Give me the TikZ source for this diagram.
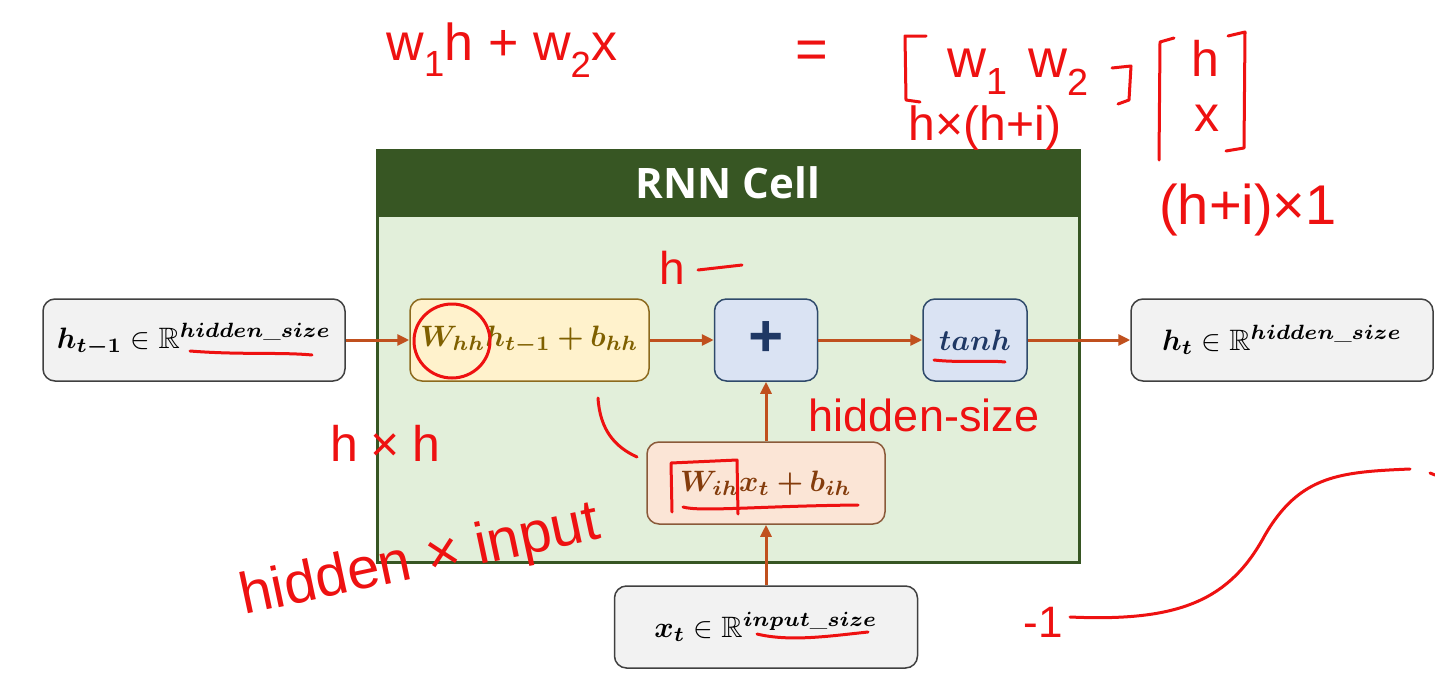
\documentclass[tikz,border=0pt]{standalone}
\usepackage{amsmath,amssymb,bm}
\usepackage{fontspec}
\newfontfamily\titlefont{Open Sans}
\newfontfamily\hand{Liberation Sans}
\usetikzlibrary{arrows.meta}
\definecolor{hdr}{HTML}{375623}
\definecolor{cellbg}{HTML}{E2EFDA}
\definecolor{graybg}{HTML}{F2F2F2}
\definecolor{grayln}{HTML}{404040}
\definecolor{yelbg}{HTML}{FFF2CC}
\definecolor{yelln}{HTML}{8C6A1E}
\definecolor{yeltx}{HTML}{7F6000}
\definecolor{bluebg}{HTML}{DAE3F3}
\definecolor{blueln}{HTML}{2F4A6B}
\definecolor{bluetx}{HTML}{1F3864}
\definecolor{pinkbg}{HTML}{FBE5D6}
\definecolor{pinkln}{HTML}{8A5A3A}
\definecolor{pinktx}{HTML}{843C0C}
\definecolor{arrc}{HTML}{C0501E}
\definecolor{ink}{HTML}{EE1111}
\tikzset{
  box/.style={draw, rounded corners=12pt, line width=1.5pt, minimum height=82pt, inner sep=0pt},
  graybox/.style={box, fill=graybg, draw=grayln, minimum width=302pt},
  yelbox/.style={box, fill=yelbg, draw=yelln, text=yeltx, minimum width=239pt},
  bluebox/.style={box, fill=bluebg, draw=blueln, text=bluetx, minimum width=104pt},
  pinkbox/.style={box, fill=pinkbg, draw=pinkln, text=pinktx, minimum width=238pt},
  arr/.style={draw=arrc, line width=3pt, -{Triangle[length=12pt,width=11pt]}},
  pen/.style={draw=ink, line width=3pt, line cap=round, line join=round},
  handtxt/.style={text=ink, inner sep=0pt, font=\hand},
}
\newcommand{\hsz}[1]{\fontsize{#1}{#1}\selectfont}
\newcommand{\mth}[1]{\scalebox{2.95}{$\bm{#1}$}}
\begin{document}
\begin{tikzpicture}[x=1pt,y=-1pt]
\useasboundingbox (0,0) rectangle (1435,672);
\fill[white] (0,0) rectangle (1435,672);
% RNN cell
\draw[fill=cellbg, draw=hdr, line width=3pt] (377,150) rectangle (1079,562);
\fill[hdr] (377,150) rectangle (1079,217);
\node[text=white, font=\titlefont\bfseries\hsz{42}] (title) at (728,183) {RNN Cell};
% boxes
\node[graybox] (hprev) at (194,340) {\scalebox{2.95}{$\bm{h_{t-1}}\in\mathbb{R}^{\bm{hidden\_size}}$}};
\node[yelbox] (whh) at (529.5,340) {\mth{W_{hh}h_{t-1}+b_{hh}}};
\node[bluebox, minimum width=103pt] (plus) at (766,340) {\titlefont\bfseries\hsz{62}+};
\node[bluebox] (tanh) at (975,340) {\mth{tanh}};
\node[graybox] (ht) at (1282,340) {\scalebox{2.95}{$\bm{h_{t}}\in\mathbb{R}^{\bm{hidden\_size}}$}};
\node[pinkbox] (wih) at (766,483) {\mth{W_{ih}x_{t}+b_{ih}}};
\node[graybox, minimum width=303pt] (xt) at (766,627) {\scalebox{2.95}{$\bm{x_{t}}\in\mathbb{R}^{\bm{input\_size}}$}};
% connectors
\draw[arr] (hprev.east) -- (whh.west);
\draw[arr] (whh.east) -- (plus.west);
\draw[arr] (plus.east) -- (tanh.west);
\draw[arr] (tanh.east) -- (ht.west);
\draw[arr] (wih.north) -- (plus.south);
\draw[arr] (xt.north) -- (wih.south);
% handwritten annotations
\node[handtxt, font=\hand\hsz{52}] (a1) at (502,50) {w\textsubscript{1}h + w\textsubscript{2}x};
\node[handtxt, font=\hand\hsz{56}] (a2) at (812,55) {=};
\node[handtxt, font=\hand\hsz{54}] (a3) at (1018,72) {w\textsubscript{1}\hspace{20pt}w\textsubscript{2}};
\draw[pen] (926,36) -- (905,36) -- (906,100) -- (920,102);
\draw[pen] (1112,68) -- (1131,66) -- (1129,100) -- (1118,104);
\node[handtxt, font=\hand\hsz{48}] (a4) at (985,128) {h×(h+i)};
\draw[pen] (1174,38) -- (1160,42) -- (1159,160);
\draw[pen] (1228,36) -- (1245,32) -- (1244,148) -- (1226,151);
\node[handtxt, font=\hand\hsz{50}] (a5) at (1205,58) {h};
\node[handtxt, font=\hand\hsz{50}] (a6) at (1207,118) {x};
\node[handtxt, font=\hand\hsz{56}] (a7) at (1248,210) {(h+i)×1};
\node[handtxt, font=\hand\hsz{46}] (a8) at (672,268) {h};
\draw[pen] (698,270) -- (742,265);
\node[handtxt, font=\hand\hsz{45}] (a9) at (924,415) {hidden-size};
\node[handtxt, font=\hand\hsz{50}] (a10) at (385,443) {h\hspace{0.25em}×\hspace{0.25em}h};
\node[handtxt, font=\hand\hsz{58}, rotate=12] (a11) at (420,562) {hidden × input};
\node[handtxt, font=\hand\hsz{44}] (a12) at (1043,622) {-1};
\draw[pen] (1070,617) .. controls (1180,622) and (1230,600) .. (1265,535) .. controls (1300,475) and (1340,472) .. (1410,469);
\draw[pen] (1430,473) -- (1435,475);
% marks on the diagram
\draw[pen] (190,351) .. controls (240,355) and (280,352) .. (312,355);
\draw[pen] (452,341) ellipse (38 and 37);
\draw[pen] (934,360) .. controls (960,363) and (985,360) .. (1005,362);
\draw[pen] (598,398) .. controls (600,430) and (615,447) .. (637,457);
\draw[pen] (672,512) -- (671,463) -- (737,460) -- (738,514);
\draw[pen] (683,507) .. controls (700,512) and (760,506) .. (858,505);
\draw[pen] (757,634) .. controls (790,642) and (830,636) .. (868,632);
\end{tikzpicture}
\end{document}
